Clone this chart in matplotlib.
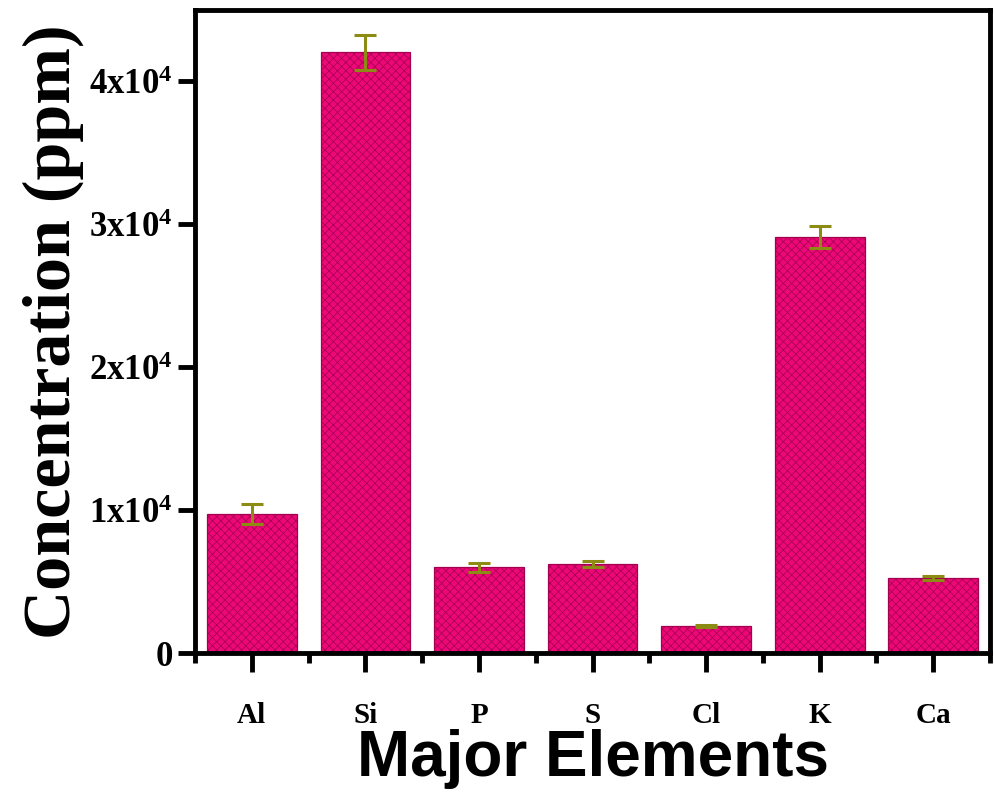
import matplotlib
matplotlib.use("Agg")
import matplotlib.pyplot as plt
from matplotlib.ticker import FixedLocator, FuncFormatter

# Major element concentrations (ppm) with error bars
elements = ["Al", "Si", "P", "S", "Cl", "K", "Ca"]
conc = [9700, 42030, 6000, 6220, 1900, 29120, 5250]
err = [700, 1220, 300, 200, 80, 770, 120]

plt.rcParams['mathtext.fontset'] = 'custom'
plt.rcParams['mathtext.rm'] = 'Liberation Serif:bold'
plt.rcParams['mathtext.bf'] = 'Liberation Serif:bold'
plt.rcParams['hatch.linewidth'] = 0.5

fig = plt.figure(figsize=(9.95, 7.92), dpi=100)
ax = fig.add_axes([0.196, 0.1755, 0.799, 0.812])

x = range(len(elements))
ax.bar(x, conc, width=0.79, color='#EC0877', edgecolor='#a3004f',
       linewidth=0.9, hatch='xxxx', zorder=2)
ax.errorbar(x, conc, yerr=err, fmt='none', ecolor='#8C8C14',
            elinewidth=2.2, capsize=8, capthick=2.2, zorder=3)

ax.set_xlim(-0.5, len(elements) - 0.5)
ax.set_ylim(0, 45000)

ax.xaxis.set_major_locator(FixedLocator(list(x)))
ax.xaxis.set_minor_locator(FixedLocator([i + 0.5 for i in range(-1, len(elements))]))
ax.set_xticklabels(elements, family='Liberation Serif', fontweight='bold', fontsize=21)
ax.yaxis.set_major_locator(FixedLocator([0, 10000, 20000, 30000, 40000]))


def sci_fmt(v, pos):
    if v == 0:
        return '0'
    return r'$\mathbf{%dx10^{4}}$' % int(round(v / 10000))


ax.yaxis.set_major_formatter(FuncFormatter(sci_fmt))
for lab in ax.get_yticklabels():
    lab.set_fontsize(25)
    lab.set_family('Liberation Serif')
    lab.set_fontweight('bold')

ax.tick_params(axis='x', which='major', direction='out', length=14, width=3.5, pad=21)
ax.tick_params(axis='x', which='minor', direction='out', length=7, width=3.5)
ax.tick_params(axis='y', which='major', direction='out', length=12, width=3.5, pad=4)

for sp in ax.spines.values():
    sp.set_linewidth(3.5)

ax.set_ylabel('Concentration (ppm)', family='Liberation Serif', fontweight='bold',
              fontsize=49, labelpad=4)
ax.set_xlabel('Major Elements', family='Liberation Sans', fontweight='bold',
              fontsize=46, labelpad=0)

fig.savefig('out.png', dpi=100)
